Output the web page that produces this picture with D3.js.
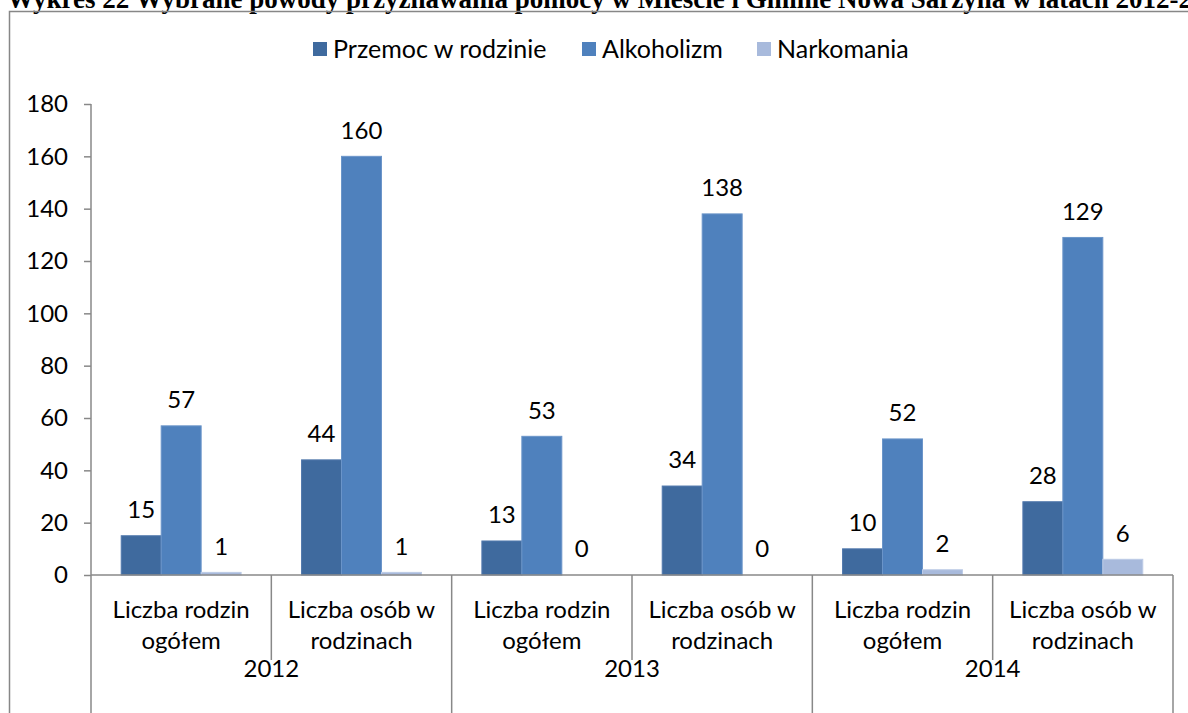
<!DOCTYPE html>
<html>
<head>
<meta charset="utf-8">
<script src="https://cdn.jsdelivr.net/npm/d3@7"></script>
<style>
  body { margin: 0; background: #fff; }
  svg text { font-family: Lato, "Open Sans", sans-serif; fill: #000; }
</style>
</head>
<body>
<div id="chart"></div>
<script>
// data
const years = ["2012", "2013", "2014"];
const subCats = [["Liczba rodzin", "ogółem"], ["Liczba osób w", "rodzinach"]];
const seriesNames = ["Przemoc w rodzinie", "Alkoholizm", "Narkomania"];
const przemoc = [15, 44, 13, 34, 10, 28];
const alkoholizm = [57, 160, 53, 138, 52, 129];
const narkomania = [1, 1, 0, 0, 2, 6];
const yTicks = [0, 20, 40, 60, 80, 100, 120, 140, 160, 180];

const colors = ["#3F6A9E", "#4F81BD", "#A8BADC"];
const strokes = ["#5279ad", "#6b95c9", "#bccbe6"];

const W = 1188, H = 713;
const fs = "24px";
const svg = d3.select("#chart").append("svg")
  .attr("width", W).attr("height", H);

svg.append("rect").attr("width", W).attr("height", H).attr("fill", "#fff");

// title (cut at the top in the original)
svg.append("text")
  .attr("x", 7).attr("y", 8)
  .style("font-family", "'Liberation Serif', 'Times New Roman', serif")
  .style("font-weight", "bold")
  .style("font-size", "27px")
  .text("Wykres 22 Wybrane powody przyznawania pomocy w Mieście i Gminie Nowa Sarzyna w latach 2012-2014");

// outer frame
svg.append("rect")
  .attr("x", 9.5).attr("y", 11.5)
  .attr("width", 1300).attr("height", 800)
  .attr("fill", "none")
  .attr("stroke", "#878787")
  .attr("stroke-width", 1.5);

// build rows
const cats = [];
years.forEach((yr, i) => subCats.forEach((s, j) => cats.push({ id: i * 2 + j, year: yr, lines: s })));
const rows = cats.map(c => ({ ...c, values: [przemoc[c.id], alkoholizm[c.id], narkomania[c.id]] }));

const x0 = 91, x1 = 1173, yZero = 575, yTop = 104;

const x = d3.scaleBand().domain(cats.map(c => c.id)).range([x0, x1]).padding(0);
const xs = d3.scaleBand().domain([0, 1, 2]).range([0, x.bandwidth()]).paddingInner(0).paddingOuter(0.756);
const y = d3.scaleLinear().domain([0, 180]).range([yZero, yTop]);

const axisColor = "#888888";

// y axis
const yAxis = svg.append("g")
  .attr("transform", `translate(${x0},0)`)
  .call(d3.axisLeft(y).tickValues(yTicks).tickSize(7).tickPadding(16));
yAxis.select(".domain").remove();
yAxis.selectAll("line").attr("stroke", axisColor).attr("stroke-width", 1.5);
yAxis.selectAll("text").style("font-size", fs).style("font-family", "Lato, sans-serif");
svg.append("line")
  .attr("x1", x0).attr("x2", x0).attr("y1", yTop).attr("y2", H)
  .attr("stroke", axisColor).attr("stroke-width", 1.5);

// bars
const groups = svg.selectAll("g.cat")
  .data(rows)
  .join("g")
  .attr("class", "cat")
  .attr("transform", d => `translate(${x(d.id)},0)`);

groups.selectAll("rect")
  .data(d => d.values.map((v, k) => ({ v, k })))
  .join("rect")
  .attr("x", d => xs(d.k))
  .attr("width", xs.bandwidth())
  .attr("y", d => y(d.v))
  .attr("height", d => yZero - y(d.v))
  .attr("fill", d => colors[d.k])
  .attr("stroke", d => d.v > 0 ? strokes[d.k] : "none")
  .attr("stroke-width", 1);

// value labels
groups.selectAll("text.val")
  .data(d => d.values.map((v, k) => ({ v, k })))
  .join("text")
  .attr("class", "val")
  .attr("x", d => xs(d.k) + xs.bandwidth() / 2)
  .attr("y", d => y(d.v) - 26)
  .attr("dy", "0.35em")
  .attr("text-anchor", "middle")
  .style("font-size", fs)
  .text(d => d.v);

// x axis line
svg.append("line")
  .attr("x1", x0).attr("x2", x1).attr("y1", yZero).attr("y2", yZero)
  .attr("stroke", axisColor).attr("stroke-width", 1.5);

// category dividers
const bounds = d3.range(cats.length + 1).map(i => x0 + i * x.step());
svg.selectAll("line.div")
  .data(bounds.slice(1))
  .join("line")
  .attr("class", "div")
  .attr("x1", d => d).attr("x2", d => d)
  .attr("y1", yZero)
  .attr("y2", (d, i) => (i + 1) % 2 === 0 ? H : 660)
  .attr("stroke", axisColor).attr("stroke-width", 1.5);

// category labels
const catLab = svg.selectAll("text.cat")
  .data(cats)
  .join("text")
  .attr("class", "cat")
  .attr("text-anchor", "middle")
  .style("font-size", fs);
catLab.selectAll("tspan")
  .data(d => d.lines.map((l, k) => ({ l, k, cx: x(d.id) + x.bandwidth() / 2 })))
  .join("tspan")
  .attr("x", d => d.cx)
  .attr("y", d => 610 + d.k * 31)
  .attr("dy", "0.35em")
  .text(d => d.l);

// year labels
svg.selectAll("text.year")
  .data(years)
  .join("text")
  .attr("class", "year")
  .attr("x", (d, i) => x(i * 2) + x.bandwidth())
  .attr("y", 669)
  .attr("dy", "0.35em")
  .attr("text-anchor", "middle")
  .style("font-size", fs)
  .text(d => d);

// legend
const legendX = [313, 582, 757];
const legend = svg.selectAll("g.leg")
  .data(seriesNames)
  .join("g")
  .attr("class", "leg")
  .attr("transform", (d, i) => `translate(${legendX[i]},49)`);
legend.append("rect")
  .attr("x", 0).attr("y", -7).attr("width", 14).attr("height", 14)
  .attr("fill", (d, i) => colors[i]);
legend.append("text")
  .attr("x", 20).attr("dy", "0.35em")
  .style("font-size", "25px")
  .text(d => d);
</script>
</body>
</html>
